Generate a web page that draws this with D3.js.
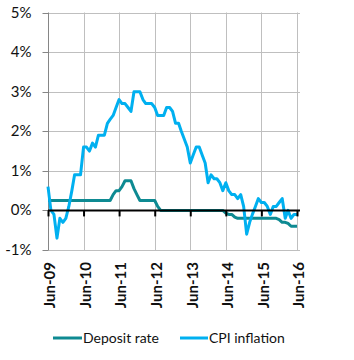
<!DOCTYPE html>
<html><head><meta charset="utf-8">
<script src="https://cdn.jsdelivr.net/npm/d3@7/dist/d3.min.js"></script>
<style>
html,body{margin:0;padding:0;background:#fff;}
text{font-family:Lato,"Open Sans",sans-serif;fill:#111;}
</style></head>
<body>
<svg id="chart" width="354" height="360"></svg>
<script>
// Monthly series, Jun-2009 .. Jun-2016 (85 months)
const startMonth = new Date(2009, 5, 1);
const depositRate = [
  0.25,0.25,0.25,0.25,0.25,0.25,0.25,0.25,0.25,0.25,0.25,0.25, // Jun09-May10
  0.25,0.25,0.25,0.25,0.25,0.25,0.25,0.25,0.25,0.25,0.4,0.5,   // Jun10-May11
  0.5,0.6,0.75,0.75,0.75,0.55,0.4,0.25,0.25,0.25,0.25,0.25,    // Jun11-May12
  0.25,0.1,0,0,0,0,0,0,0,0,0,0,                                // Jun12-May13
  0,0,0,0,0,0,0,0,0,0,0,0,                                     // Jun13-May14
  -0.07,-0.1,-0.1,-0.17,-0.2,-0.2,-0.2,-0.2,-0.2,-0.2,-0.2,-0.2, // Jun14-May15
  -0.2,-0.2,-0.2,-0.2,-0.2,-0.2,-0.23,-0.3,-0.3,-0.33,-0.4,-0.4, // Jun15-May16
  -0.4                                                          // Jun16
];
const cpiInflation = [
  0.6,0.0,-0.1,-0.7,-0.2,-0.3,-0.2,0.1,0.5,0.9,0.9,0.9,
  1.6,1.6,1.5,1.7,1.6,1.9,1.9,1.9,2.2,2.3,2.4,2.6,
  2.8,2.7,2.7,2.6,2.5,3.0,3.0,3.0,2.8,2.7,2.7,2.7,
  2.6,2.4,2.4,2.4,2.6,2.6,2.5,2.2,2.2,2.0,1.8,1.6,
  1.2,1.4,1.6,1.6,1.4,1.2,0.7,0.9,0.8,0.8,0.7,0.5,
  0.7,0.5,0.4,0.4,0.3,0.4,0.1,-0.6,-0.3,-0.1,0.1,0.3,
  0.2,0.2,0.1,-0.1,0.1,0.1,0.2,0.3,-0.2,0.0,-0.2,-0.1,
  -0.1
];
const yTickValues = [-1,0,1,2,3,4,5];
const yTickLabels = ["-1%","0%","1%","2%","3%","4%","5%"];
const xTickLabels = ["Jun-09","Jun-10","Jun-11","Jun-12","Jun-13","Jun-14","Jun-15","Jun-16"];
const seriesNames = ["Deposit rate","CPI inflation"];
const seriesColors = ["#0e8a92","#00b0f0"];

const dates = depositRate.map((_, i) => d3.timeMonth.offset(startMonth, i));
const xTickDates = xTickLabels.map((_, i) => d3.timeYear.offset(startMonth, i));

const svg = d3.select("#chart");
const x = d3.scaleTime().domain([startMonth, d3.timeYear.offset(startMonth, 7)]).range([48, 297]);
const y = d3.scaleLinear().domain([-1, 5]).range([250, 12.5]);
const plotRight = 300;

// horizontal gridlines
svg.append("g").selectAll("line").data(yTickValues).join("line")
  .attr("x1", 48).attr("x2", plotRight)
  .attr("y1", d => Math.round(y(d)) + 0.5).attr("y2", d => Math.round(y(d)) + 0.5)
  .attr("stroke", "#bfbfbf").attr("stroke-width", 1);
// vertical gridlines
svg.append("g").selectAll("line").data(xTickDates.slice(1)).join("line")
  .attr("x1", d => Math.round(x(d)) + 0.5).attr("x2", d => Math.round(x(d)) + 0.5)
  .attr("y1", y(5)).attr("y2", y(-1))
  .attr("stroke", "#bfbfbf").attr("stroke-width", 1);

// y axis
const yAxis = d3.axisLeft(y).tickValues(yTickValues).tickFormat((d, i) => yTickLabels[i]).tickSize(6).tickPadding(11);
const gy = svg.append("g").attr("transform", "translate(48.5,0)").call(yAxis);
gy.select(".domain").attr("stroke", "#868686").attr("d", `M0,${y(5)}V${y(-1)}`);
gy.selectAll(".tick line").attr("stroke", "#868686");
gy.selectAll(".tick text").style("font-size", "15px").attr("fill", "#111");
gy.selectAll(".tick").attr("transform", d => `translate(0,${Math.round(y(d)) + 0.5})`);

// series lines
const line = d3.line().x((d, i) => x(dates[i])).y(d => y(d));
[depositRate, cpiInflation].forEach((s, k) => {
  svg.append("path").datum(s).attr("d", line)
    .attr("fill", "none").attr("stroke", seriesColors[k]).attr("stroke-width", 3)
    .attr("stroke-linejoin", "round");
});

// x axis at zero
const xAxis = d3.axisBottom(x).tickValues(xTickDates).tickFormat(() => "").tickSize(6);
const gx = svg.append("g").attr("transform", `translate(0,${y(0)})`).call(xAxis);
gx.select(".domain").attr("stroke", "#000").attr("stroke-width", 2).attr("d", `M48,0H${plotRight}`);
gx.selectAll(".tick line").attr("stroke", "#000").attr("stroke-width", 2);

// rotated x labels
svg.append("g").selectAll("text").data(xTickDates).join("text")
  .attr("transform", d => `translate(${x(d) + 2},262) rotate(-90)`)
  .attr("text-anchor", "end").attr("dy", "0.35em")
  .style("font-size", "15px").style("font-weight", "bold")
  .text((d, i) => xTickLabels[i]);

// legend
const legendPos = [{lx: 53, tx: 83}, {lx: 180, tx: 209}];
const lg = svg.append("g");
seriesNames.forEach((name, k) => {
  lg.append("line").attr("x1", legendPos[k].lx).attr("x2", legendPos[k].tx - 1)
    .attr("y1", 338).attr("y2", 338).attr("stroke", seriesColors[k]).attr("stroke-width", 3);
  lg.append("text").attr("x", legendPos[k].tx).attr("y", 338).attr("dy", "0.35em")
    .style("font-size", "14px").text(name);
});
</script>
</body></html>
